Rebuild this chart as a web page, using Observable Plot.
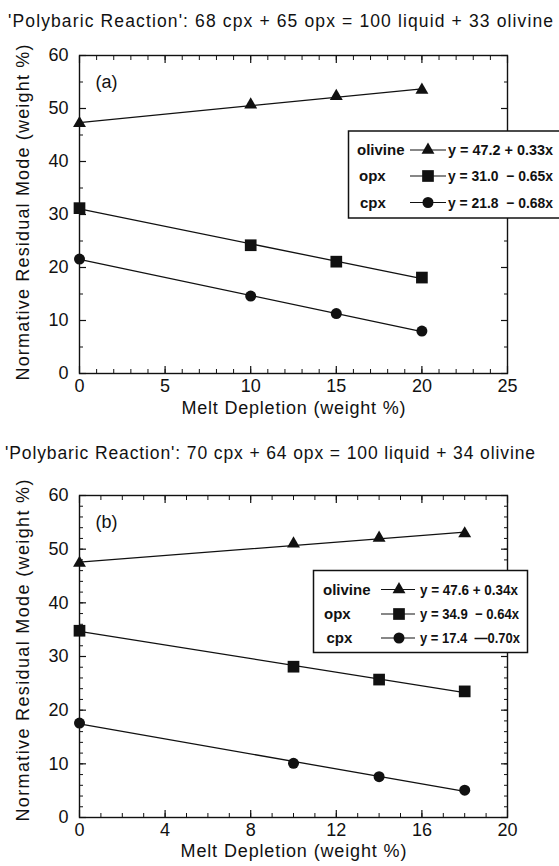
<!DOCTYPE html>
<html><head><meta charset="utf-8">
<script src="https://cdn.jsdelivr.net/npm/d3@7"></script>
<script src="https://cdn.jsdelivr.net/npm/@observablehq/plot@0.6"></script>
<style>
body{margin:0;background:#fff;}
#fig{position:relative;width:559px;height:866px;overflow:hidden;background:#fff;font-family:"Liberation Sans",Arial,Helvetica,sans-serif;color:#111;}
.panel{position:absolute;left:0;z-index:1;}
.overlay{position:absolute;left:0;top:0;pointer-events:none;z-index:2;}
</style></head><body><div id="fig"></div>
<script>
// ---- data ----
const minerals = ["olivine", "opx", "cpx"];
const symbols = ["triangle", "square", "circle"];

const titleA = "'Polybaric Reaction': 68 cpx + 65 opx = 100 liquid + 33 olivine";
const depletionA = [0, 10, 15, 20];
const olivineA = [47.2, 50.7, 52.3, 53.5];
const opxA = [31.2, 24.2, 21.1, 18.1];
const cpxA = [21.6, 14.6, 11.3, 8.0];
const equationsA = ["y = 47.2 + 0.33x", "y = 31.0  \u2212 0.65x", "y = 21.8  \u2212 0.68x"];
const xTicksA = [0, 5, 10, 15, 20, 25];
const yTicksA = [0, 10, 20, 30, 40, 50, 60];

const titleB = "'Polybaric Reaction': 70 cpx + 64 opx = 100 liquid + 34 olivine";
const depletionB = [0, 10, 14, 18];
const olivineB = [47.4, 51.0, 52.1, 52.9];
const opxB = [34.8, 28.1, 25.7, 23.5];
const cpxB = [17.6, 10.1, 7.6, 5.1];
const equationsB = ["y = 47.6 + 0.34x", "y = 34.9  \u2212 0.64x", "y = 17.4  \u20140.70x"];
const xTicksB = [0, 4, 8, 12, 16, 20];
const yTicksB = [0, 10, 20, 30, 40, 50, 60];

const xLabel = "Melt Depletion (weight %)";
const yLabel = "Normative Residual Mode (weight %)";

const fig = document.getElementById("fig");
const FONT = "'Liberation Sans', Arial, Helvetica, sans-serif";
const INK = "#111";
const dotR = {triangle: 4.8, square: 6.6, circle: 5.5};

function rowsFor(depl, seriesList) {
  const rows = [];
  seriesList.forEach((vals, k) => vals.forEach((v, i) => rows.push({depletion: depl[i], mode: v, mineral: minerals[k], symbol: symbols[k]})));
  return rows;
}

function panel({top, height, marginBottom, rows, xDomain, xMajor, xMinor, yMajor, yMinor, tag, xLabelDy, yLabelDy, xLabelLen, yLabelLen}) {
  const blank = () => "";
  const marks = [
    Plot.axisX({ticks: xMinor, tickSize: 4, insetBottom: 4, tickFormat: blank, label: null, strokeWidth: 1}),
    Plot.axisX({anchor: "top", ticks: xMinor, tickSize: 4, insetTop: 4, tickFormat: blank, label: null, strokeWidth: 1}),
    Plot.axisY({ticks: yMinor, tickSize: 4, insetLeft: 4, tickFormat: blank, label: null, strokeWidth: 1}),
    Plot.axisY({anchor: "right", ticks: yMinor, tickSize: 4, insetRight: 4, tickFormat: blank, label: null, strokeWidth: 1}),
    Plot.axisX({ticks: xMajor, tickSize: 7, insetBottom: 7, tickPadding: 6, label: null, strokeWidth: 1.2, fontSize: 18}),
    Plot.axisX({anchor: "top", ticks: xMajor, tickSize: 7, insetTop: 7, tickFormat: blank, label: null, strokeWidth: 1.2}),
    Plot.axisY({ticks: yMajor, tickSize: 7, insetLeft: 7, tickPadding: 11, label: null, strokeWidth: 1.2, fontSize: 18}),
    Plot.axisY({anchor: "right", ticks: yMajor, tickSize: 7, insetRight: 7, tickFormat: blank, label: null, strokeWidth: 1.2}),
    Plot.frame({stroke: INK, strokeWidth: 1.4}),
    Plot.linearRegressionY(rows, {x: "depletion", y: "mode", z: "mineral", ci: 0, stroke: INK, strokeWidth: 1.3}),
    ...symbols.map(s => Plot.dot(rows.filter(d => d.symbol === s), {x: "depletion", y: "mode", symbol: () => s, r: dotR[s], fill: INK, stroke: "none"})),
    Plot.text([tag], {frameAnchor: "top-left", dx: 16, dy: 27, textAnchor: "start", lineAnchor: "middle", fontSize: 18}),
    Plot.text([xLabel], {frameAnchor: "bottom", dy: xLabelDy, lineAnchor: "middle", fontSize: 18}),
    Plot.text([yLabel], {frameAnchor: "left", dx: -56, dy: yLabelDy, rotate: -90, lineAnchor: "middle", textAnchor: "middle", fontSize: 18})
  ];
  const svg = Plot.plot({
    width: 559,
    height,
    marginTop: 15,
    marginBottom,
    marginLeft: 79,
    marginRight: 52,
    style: {fontFamily: FONT, fontSize: "18px", color: INK, background: "transparent", overflow: "visible"},
    x: {domain: xDomain},
    y: {domain: [0, 60]},
    symbol: {type: "identity"},
    marks
  });
  svg.classList.add("panel");
  svg.style.top = top + "px";
  // stretch the axis titles to the reference's lengths
  d3.select(svg).selectAll("text").each(function() {
    if (this.textContent === xLabel) this.setAttribute("textLength", xLabelLen);
    if (this.textContent === yLabel) this.setAttribute("textLength", yLabelLen);
  });
  fig.appendChild(svg);
}

panel({top: 40, height: 380, marginBottom: 47, rows: rowsFor(depletionA, [olivineA, opxA, cpxA]),
  xDomain: [0, 25], xMajor: xTicksA, xMinor: d3.range(0, 26, 1), yMajor: yTicksA, yMinor: d3.range(0, 61, 5), tag: "(a)",
  xLabelDy: 35, yLabelDy: -2, xLabelLen: 224, yLabelLen: 336});
panel({top: 480, height: 386, marginBottom: 49, rows: rowsFor(depletionB, [olivineB, opxB, cpxB]),
  xDomain: [0, 20], xMajor: xTicksB, xMinor: d3.range(0, 21, 1), yMajor: yTicksB, yMinor: d3.range(0, 61, 2), tag: "(b)",
  xLabelDy: 34, yLabelDy: -6, xLabelLen: 226, yLabelLen: 342});

const overlay = d3.select(fig).append("svg").attr("class", "overlay").attr("width", 559).attr("height", 866)
  .style("font-family", FONT);

function title(text, x, baseline, len) {
  overlay.append("text").attr("x", x).attr("y", baseline).attr("font-size", 17.5).attr("fill", INK)
    .attr("textLength", len).attr("lengthAdjust", "spacing").text(text);
}

function legend({x, y, w, h, rows, nameX, lineX0, lineX1, markX, eqX, eqLen, equations}) {
  const g = overlay.append("g");
  g.append("rect").attr("x", x).attr("y", y).attr("width", w).attr("height", h)
    .attr("fill", "#fff").attr("stroke", INK).attr("stroke-width", 1.5);
  minerals.forEach((m, i) => {
    const cy = rows[i];
    g.append("text").attr("x", nameX[i]).attr("y", cy).attr("dy", "0.36em")
      .attr("font-weight", "bold").attr("font-size", 15).attr("fill", INK).text(m);
    g.append("line").attr("x1", lineX0).attr("x2", lineX1).attr("y1", cy).attr("y2", cy)
      .attr("stroke", INK).attr("stroke-width", 1.2);
    const s = symbols[i];
    const type = s === "triangle" ? d3.symbolTriangle : s === "square" ? d3.symbolSquare : d3.symbolCircle;
    g.append("path").attr("transform", `translate(${markX},${cy})`)
      .attr("d", d3.symbol(type, Math.PI * dotR[s] * dotR[s])()).attr("fill", INK);
    g.append("text").attr("x", eqX).attr("y", cy).attr("dy", "0.36em")
      .attr("font-weight", "bold").attr("font-size", 14.5).attr("fill", INK)
      .attr("textLength", eqLen[i]).attr("lengthAdjust", "spacingAndGlyphs")
      .style("white-space", "pre").text(equations[i]);
  });
}

title(titleA, 8, 27, 545);
title(titleB, 5, 459, 530);

legend({x: 348.5, y: 131, w: 214, h: 87, rows: [150, 176, 202.5], nameX: [357, 359, 360],
  lineX0: 410, lineX1: 446, markX: 428, eqX: 448, eqLen: [105, 105, 105], equations: equationsA});
legend({x: 313.5, y: 570.5, w: 214, h: 82, rows: [589.5, 614, 638], nameX: [323, 324, 326.5],
  lineX0: 381, lineX1: 415, markX: 399, eqX: 420, eqLen: [98, 99, 100], equations: equationsB});
</script></body></html>
